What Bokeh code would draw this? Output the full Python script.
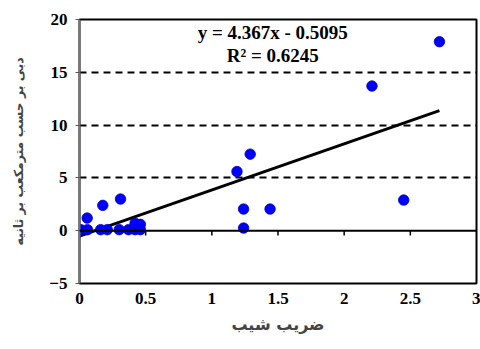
from bokeh.plotting import figure
from bokeh.models import FixedTicker, Span, Label, ColumnDataSource
from bokeh.embed import file_html
from bokeh.resources import INLINE

# data
slope_x = [0.0, 0.01, 0.06, 0.058, 0.16, 0.176, 0.21, 0.30, 0.31, 0.37, 0.42, 0.42, 0.46, 0.46,
           1.19, 1.24, 1.24, 1.29, 1.44, 2.21, 2.45, 2.72]
flow_y = [0.0, 0.1, 0.1, 1.2, 0.1, 2.4, 0.1, 0.1, 3.0, 0.1, 0.1, 0.7, 0.1, 0.6,
          5.6, 2.05, 0.25, 7.25, 2.05, 13.7, 2.9, 17.9]
trend_slope = 4.367
trend_intercept = -0.5095
x_ticks = [0, 0.5, 1, 1.5, 2, 2.5, 3]
x_tick_labels = ["0", "0.5", "1", "1.5", "2", "2.5", "3"]
y_ticks = [-5, 0, 5, 10, 15, 20]
grid_levels = [5, 10, 15]
eq_text = "y = 4.367x - 0.5095"
r2_text = "R\u00b2 = 0.6245"
x_title = "ضریب شیب"
y_title = "دبی بر حسب مترمکعب بر ثانیه"

W, H = 480, 349
p = figure(width=W, height=H, output_backend="svg", toolbar_location=None,
           x_range=(0, 3), y_range=(-5, 20),
           min_border_left=79, min_border_right=4, min_border_top=19, min_border_bottom=66)
p.background_fill_color = "white"
p.border_fill_color = "white"
p.outline_line_color = "black"
p.outline_line_width = 2

serif = "Liberation Serif"

# axes
p.xaxis.ticker = FixedTicker(ticks=x_ticks)
p.xaxis.major_label_overrides = {t: l for t, l in zip(x_ticks, x_tick_labels)}
p.xaxis.major_tick_out = 0
p.xaxis.major_tick_in = 0
p.xaxis.minor_tick_out = 0
p.xaxis.minor_tick_in = 0
p.xaxis.axis_line_color = None
p.xaxis.major_label_standoff = 9
p.xaxis.major_label_text_font = serif
p.xaxis.major_label_text_font_style = "bold"
p.xaxis.major_label_text_font_size = "17px"
p.xaxis.major_label_text_color = "black"
p.xaxis.axis_label = x_title
p.xaxis.axis_label_text_font = "DejaVu Sans"
p.xaxis.axis_label_text_font_style = "bold"
p.xaxis.axis_label_text_font_size = "16px"
p.xaxis.axis_label_standoff = 8

p.yaxis.ticker = FixedTicker(ticks=y_ticks)
p.yaxis.major_tick_out = 4
p.yaxis.major_tick_in = 0
p.yaxis.minor_tick_out = 0
p.yaxis.minor_tick_in = 0
p.yaxis.axis_line_color = "#777777"
p.yaxis.axis_line_width = 2
p.yaxis.major_tick_line_color = "#555555"
p.yaxis.major_label_standoff = 8
p.yaxis.major_label_text_font = serif
p.yaxis.major_label_text_font_style = "bold"
p.yaxis.major_label_text_font_size = "17px"
p.yaxis.major_label_text_color = "black"
p.yaxis.axis_label = y_title
p.yaxis.axis_label_text_font = "DejaVu Sans"
p.yaxis.axis_label_text_font_style = "bold"
p.yaxis.axis_label_text_font_size = "12.5px"
p.yaxis.axis_label_standoff = 20

# grid
p.xgrid.grid_line_color = None
p.ygrid.ticker = FixedTicker(ticks=grid_levels)
p.ygrid.grid_line_color = "black"
p.ygrid.grid_line_dash = "7 5"
p.ygrid.grid_line_width = 2

# zero line (x axis crossing) with ticks
p.add_layout(Span(location=0, dimension="width", line_color="black", line_width=2))
tick_src = ColumnDataSource(dict(x=x_ticks[1:-1], y0=[0] * (len(x_ticks) - 2),
                                 y1=[-0.45] * (len(x_ticks) - 2)))
p.segment(x0="x", y0="y0", x1="x", y1="y1", source=tick_src, line_color="black", line_width=1.5)

# trend line
tx = [min(slope_x), max(slope_x)]
ty = [trend_slope * v + trend_intercept for v in tx]
p.line(tx, ty, line_color="black", line_width=3)

# points
p.scatter(slope_x, flow_y, size=10.5, fill_color="#0000FF", line_color="#0000BB", line_width=0.8)

# equation labels
p.add_layout(Label(x=1.46, y=18.8, text=eq_text, text_align="center", text_baseline="middle",
                   text_font=serif, text_font_style="bold", text_font_size="19px", text_color="black"))
p.add_layout(Label(x=1.46, y=16.6, text=r2_text, text_align="center", text_baseline="middle",
                   text_font=serif, text_font_style="bold", text_font_size="19px", text_color="black"))

open("out.html", "w").write(file_html(p, INLINE))
